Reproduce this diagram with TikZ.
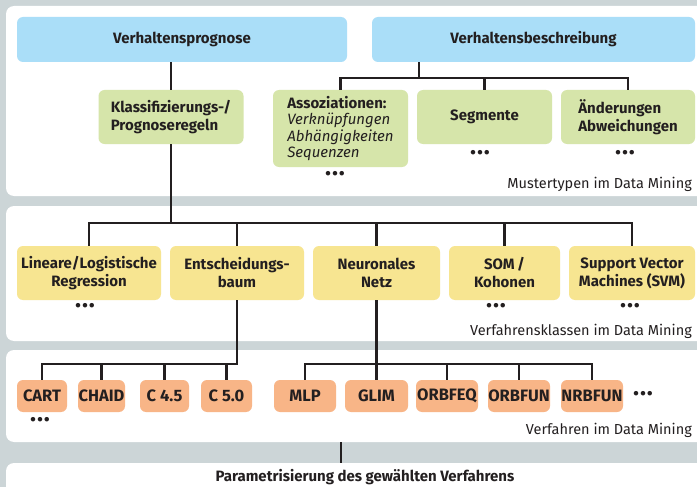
\documentclass[tikz,border=0pt]{standalone}
\usepackage{fontspec}
\setmainfont{Fira Sans}
\usepackage{tikz}
\usetikzlibrary{positioning,calc}
\definecolor{PanelGray}{RGB}{204,213,215}
\definecolor{GoalBlue}{RGB}{170,222,248}
\definecolor{PatternGreen}{RGB}{214,229,170}
\definecolor{ClassYellow}{RGB}{247,229,145}
\definecolor{MethodOrange}{RGB}{248,181,135}
\definecolor{InkBlack}{RGB}{35,31,32}
\newcommand{\moredots}{\textbullet\hspace{0.5pt}\textbullet\hspace{0.5pt}\textbullet}
\tikzset{
  levelpanel/.style={fill=white, rounded corners=8pt, inner sep=0pt},
  basebox/.style={rounded corners=6pt, inner sep=0pt, text=InkBlack,
    font=\fontsize{15}{18}\selectfont\bfseries},
  goalbox/.style={basebox, fill=GoalBlue, minimum height=45pt},
  patternbox/.style={basebox, fill=PatternGreen, align=left, minimum height=54pt},
  classbox/.style={basebox, fill=ClassYellow, align=center, minimum height=54pt},
  methodbox/.style={basebox, fill=MethodOrange, minimum height=32pt,
    font=\fontsize{16.5}{18}\selectfont\bfseries},
  link/.style={draw=InkBlack, line width=2.2pt},
  levelnote/.style={anchor=base east, inner sep=0pt, text=InkBlack,
    font=\fontsize{14.5}{16}\selectfont},
  morenote/.style={inner sep=0pt, text=InkBlack, font=\fontsize{20}{20}\selectfont}
}

\begin{document}
\begin{tikzpicture}[x=1pt, y=-1pt]
  \fill[PanelGray] (0,0) rectangle (697,487);
  \useasboundingbox (0,0) rectangle (697,487);
  \clip (0,0) rectangle (697,487);
  % Ebenen
  \node[levelpanel, minimum width=704pt, minimum height=190pt] (lvA) at (358,101) {};
  \node[levelpanel, minimum width=704pt, minimum height=135pt] (lvB) at (358,273.5) {};
  \node[levelpanel, minimum width=704pt, minimum height=92pt] (lvC) at (358,396) {};
  \node[levelpanel, minimum width=704pt, minimum height=40pt] (lvD) at (358,483) {};

  % Mustertypen
  \node[goalbox, minimum width=330pt] (prog) at (182,39.5) {Verhaltensprognose};
  \node[goalbox, minimum width=323pt] (besch) at (533.5,39.5) {Verhaltensbeschreibung};
  \node[patternbox, minimum width=145pt] (regeln) at (171,117)
    {Klassifizierungs-/\\Prognoseregeln};
  \node[patternbox, minimum width=135pt, minimum height=77pt, font=\fontsize{15}{16.5}\selectfont\bfseries] (assoz) at (340.5,128.5)
    {Assoziationen:\\{\mdseries\itshape Verknüpfungen}\\{\mdseries\itshape Abhängigkeiten}\\{\mdseries\itshape Sequenzen}};
  \node[patternbox, minimum width=135pt] (segm) at (484.5,117) {Segmente};
  \node[patternbox, minimum width=134pt] (aend) at (628,117) {Änderungen\\Abweichungen};
  \node[morenote] (dotsA) at (335,176) {\moredots};
  \node[morenote] (dotsB) at (480,155) {\moredots};
  \node[morenote] (dotsC) at (625,155) {\moredots};
  \node[levelnote] (noteA) at (692,188) {Mustertypen im Data Mining};

  \coordinate (jA) at (419,78);
  \draw[link] (prog.south -| regeln.north) -- (regeln.north);
  \draw[link] (besch.south -| jA) -- (jA);
  \draw[link] (assoz.north) |- (jA) -| (aend.north);
  \draw[link] (segm.north) -- (segm.north |- jA);

  % Verfahrensklassen
  \node[classbox, minimum width=144pt] (linreg) at (89,273) {Lineare/Logistische\\Regression};
  \node[classbox, minimum width=134pt] (tree) at (237,273) {Entscheidungs-\\baum};
  \node[classbox, minimum width=127pt] (netz) at (376.5,273) {Neuronales\\Netz};
  \node[classbox, minimum width=111pt] (som) at (504.5,273) {SOM\,/\\Kohonen};
  \node[classbox, minimum width=126pt] (svm) at (632,273) {Support Vector\\Machines (SVM)};
  \node[morenote] (dotsD) at (85,308) {\moredots};
  \node[morenote] (dotsE) at (496,308) {\moredots};
  \node[morenote] (dotsF) at (630,308) {\moredots};
  \node[levelnote] (noteB) at (692,335) {Verfahrensklassen im Data Mining};

  \coordinate (jB) at (171,223);
  \draw[link] (regeln.south) -- (jB);
  \draw[link] (linreg.north) |- (jB) -| (svm.north);
  \foreach \k in {tree,netz,som}
    \draw[link] (\k.north) -- (\k.north |- jB);

  % Verfahren
  \node[methodbox, minimum width=50pt] (cart) at (42,396) {CART};
  \node[methodbox, minimum width=47pt] (chaid) at (101.5,396) {CHAID};
  \node[methodbox, minimum width=49pt] (cfour) at (164.5,396) {C 4.5};
  \node[methodbox, minimum width=51pt] (cfive) at (226.5,396) {C 5.0};
  \node[methodbox, minimum width=62pt] (mlp) at (305,396) {MLP};
  \node[methodbox, minimum width=63pt] (glim) at (376.5,396) {GLIM};
  \node[methodbox, minimum width=62pt] (orbfeq) at (447,396) {ORBFEQ};
  \node[methodbox, minimum width=62pt] (orbfun) at (519,396) {ORBFUN};
  \node[methodbox, minimum width=62pt] (nrbfun) at (592,396) {NRBFUN};
  \node[morenote] (dotsG) at (40,422) {\moredots};
  \node[morenote] (dotsH) at (643,396) {\moredots};
  \node[levelnote] (noteC) at (692,434) {Verfahren im Data Mining};

  \coordinate (jC) at (0,364);
  \draw[link] (tree.south) -- (tree.south |- jC) -| (cart.north);
  \foreach \k in {chaid,cfour,cfive}
    \draw[link] (\k.north) -- (\k.north |- jC);
  \draw[link] (netz.south) -- (netz.south |- jC);
  \draw[link] (mlp.north) |- (nrbfun.north |- jC) -- (nrbfun.north);
  \foreach \k in {glim,orbfeq,orbfun}
    \draw[link] (\k.north) -- (\k.north |- jC);

  % Parametrisierung
  \coordinate (jD) at (341,0);
  \draw[link] (lvC.south -| jD) -- (lvD.north -| jD);
  \node[basebox, anchor=base] (param) at (365,481) {Parametrisierung des gewählten Verfahrens};
\end{tikzpicture}
\end{document}
